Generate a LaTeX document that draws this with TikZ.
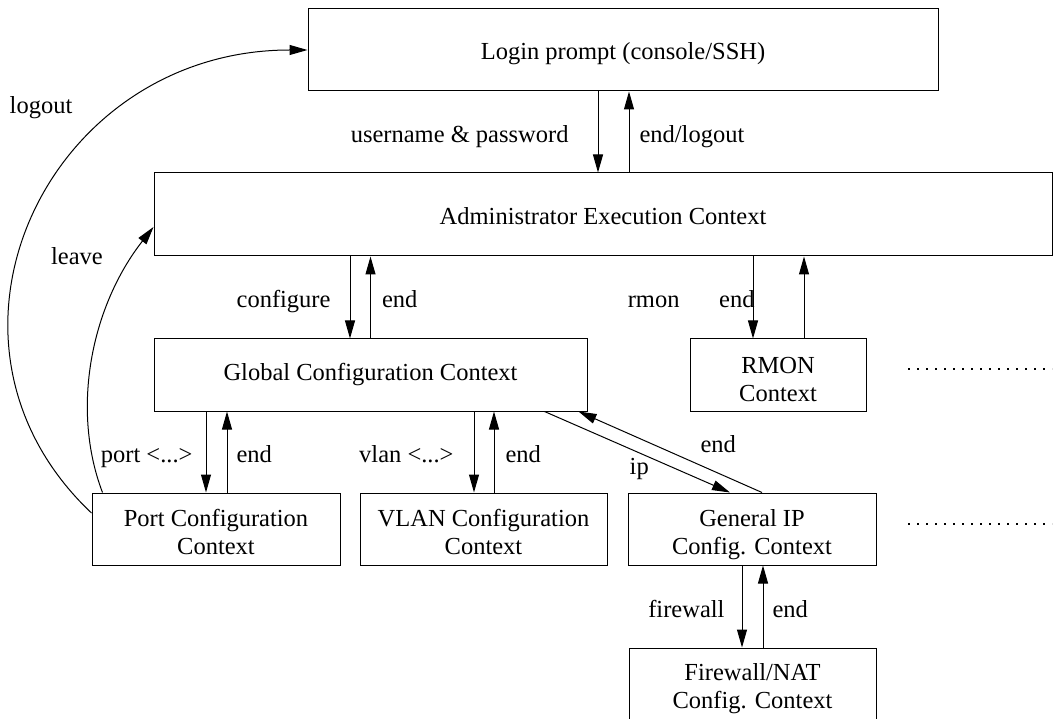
\documentclass[tikz,border=0pt]{standalone}
\usepackage{fontspec}
\setmainfont{Liberation Serif}
\usetikzlibrary{arrows.meta,positioning}
\newcommand{\tallstrut}[1]{\rule{0pt}{#1pt}}
\begin{document}
\begin{tikzpicture}[x=1pt,y=1pt,
  font=\fontsize{24.5}{28}\selectfont,
  ctx/.style={draw,line width=1pt,minimum height=72pt,align=center,inner sep=0pt},
  lbl/.style={inner sep=0pt,text height=17pt,text depth=5pt},
  cmd/.style={lbl,yshift=-4.5pt},
  tip/.style={line width=1pt,-{Triangle[length=18pt,width=10pt]}},
  etc/.style={line width=2pt,dash pattern=on 2pt off 7pt}]
  \useasboundingbox (0,0) rectangle (1056,718);
  \clip (0,0) rectangle (1056,718);
  % contexts
  \node[ctx,minimum width=630pt,minimum height=82pt] (login) at (623,668) {\rule[-6pt]{0pt}{32pt}Login prompt (console/SSH)};
  \node[ctx,minimum width=898pt,minimum height=83pt] (admin) at (603,503.5) {\rule[-6pt]{0pt}{33pt}Administrator Execution Context};
  \node[ctx,minimum width=433pt] (global) at (370.5,343) {Global Configuration Context};
  \node[ctx,minimum width=176pt] (rmon) at (778,343) {\tallstrut{26}RMON\\Context};
  \node[ctx,minimum width=248pt] (port) at (216,189) {\tallstrut{23}Port Configuration\\Context};
  \node[ctx,minimum width=247pt] (vlan) at (483.5,189) {\tallstrut{23}VLAN Configuration\\Context};
  \node[ctx,minimum width=248pt] (genip) at (752,189) {\tallstrut{28}General IP\\Config. Context};
  \node[ctx,minimum width=247pt] (fwnat) at (752.5,34) {\tallstrut{26}Firewall/NAT\\Config. Context};
  % commands in and out
  \draw[tip] ([xshift=-25pt]login.south) -- node[cmd,left=29pt] (lusername) {username \& password} ([xshift=-5pt]admin.north);
  \draw[tip] ([xshift=26pt]admin.north) -- node[cmd,right=10pt] (lendlogout) {end/logout} ([xshift=6pt]login.south);
  \draw[tip] ([xshift=-253pt]admin.south) -- node[cmd,left=19pt] (lconfigure) {configure} ([xshift=-20.5pt]global.north);
  \draw[tip] (global.north) -- node[cmd,right=11pt] (lendglobal) {end} ([xshift=-232.5pt]admin.south);
  \draw[tip] ([xshift=150pt]admin.south) -- node[cmd,left=73pt] (lrmon) {rmon} ([xshift=-25pt]rmon.north);
  \draw[tip] ([xshift=26pt]rmon.north) -- node[cmd,left=49pt] (lendrmon) {end} ([xshift=201pt]admin.south);
  \draw[tip] ([xshift=-164.5pt]global.south) -- node[cmd,left=13pt] (lport) {port <...>} ([xshift=-10pt]port.north);
  \draw[tip] ([xshift=11pt]port.north) -- node[cmd,right=9pt] (lendport) {end} ([xshift=-143.5pt]global.south);
  \draw[tip] ([xshift=103.5pt]global.south) -- node[cmd,left=20pt] (lvlan) {vlan <...>} ([xshift=-9.5pt]vlan.north);
  \draw[tip] ([xshift=10.5pt]vlan.north) -- node[cmd,right=11pt] (lendvlan) {end} ([xshift=123.5pt]global.south);
  \draw[tip] ([xshift=-43pt]global.south east) -- node[lbl,xshift=2pt,yshift=-16pt] (lip) {ip} ([xshift=-22pt]genip.north);
  \draw[tip] ([xshift=10pt]genip.north) -- node[lbl,xshift=48pt,yshift=5.5pt] (lendip) {end} ([xshift=-9pt]global.south east);
  \draw[tip] ([xshift=-10pt]genip.south) -- node[cmd,left=17pt] (lfirewall) {firewall} ([xshift=-10.5pt]fwnat.north);
  \draw[tip] ([xshift=10.5pt]fwnat.north) -- node[cmd,right=9pt] (lendfw) {end} ([xshift=11pt]genip.south);
  % leaving the port context
  \draw[tip] ([yshift=16pt]port.west) .. controls +(-182,172) and +(-261,0) .. (login.west);
  \draw[tip] ([xshift=11pt]port.north west) .. controls +(-32,84) and +(-62,-79) .. ([yshift=-12.5pt]admin.west);
  \node[lbl] (llogout) at (41,610) {logout};
  \node[lbl] (lleave) at (77,459) {leave};
  % more contexts
  \draw[etc] (908,349) -- (1052,349);
  \draw[etc] (908,194) -- (1052,194);
\end{tikzpicture}
\end{document}
